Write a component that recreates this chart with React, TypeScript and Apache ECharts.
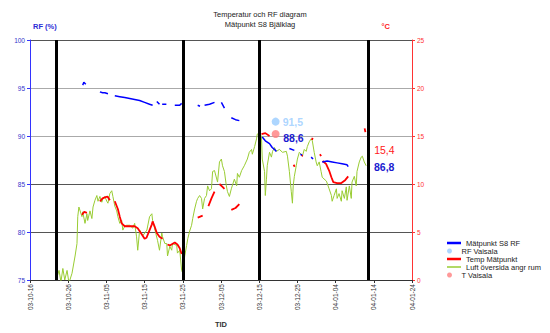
import React, { useEffect, useRef } from "react";
import * as echarts from "echarts";

const FONT = '"Liberation Sans", Arial, Helvetica, sans-serif';

// All x-values are days since the start of the period, 2003-10-16 00:00.
const START_UTC = Date.UTC(2003, 9, 16);
const DAY_MS = 86400000;
const periodDays = { min: 0, max: 100, step: 10 };
const rfAxis = { min: 75, max: 100, step: 5 };
const tempAxis = { min: 0, max: 25, step: 5 };

// RF reading of the sensor at the time of the Vaisala check
const rfVidVaisala = [64.0, 88.6];

// Mätpunkt S8 RF (%), logged in separate runs
const rfSegments: number[][][] = [
  [[13.8, 95.3], [14.1, 95.6], [14.6, 95.4]],
  [[18.3, 94.6], [19.0, 94.5], [19.6, 94.5], [20.4, 94.4]],
  [[22.2, 94.2], [23.5, 94.1], [24.8, 94.0], [26.1, 93.9], [27.4, 93.8], [28.7, 93.7], [30.0, 93.5], [31.3, 93.3], [32.1, 93.2]],
  [[33.2, 93.6], [33.9, 93.3]],
  [[34.6, 93.3], [35.7, 93.3]],
  [[37.9, 93.2], [39.2, 93.2], [39.7, 93.4]],
  [[43.9, 93.2], [44.5, 93.1]],
  [[45.7, 93.2], [47.0, 93.3], [48.3, 93.5]],
  [[50.1, 93.5], [50.9, 92.9]],
  [[52.7, 91.9], [53.8, 91.7], [54.8, 91.6]],
  [[60.8, 89.9], [61.6, 89.5], [62.7, 89.2], [63.4, 88.8], rfVidVaisala, [64.5, 88.4]],
  [[67.9, 88.7], [69.2, 88.5]],
  [[70.8, 88.1], [71.2, 88.0]],
  [[73.6, 87.8], [74.1, 87.6]],
  [[76.5, 87.3], [77.8, 87.4], [79.1, 87.3], [80.4, 87.2], [81.7, 87.1], [83.0, 87.0], [83.3, 86.8]],
];

// Temp Mätpunkt (°C)
const tempSegments: number[][][] = [
  [[13.6, 6.8], [14.2, 7.1], [14.9, 7.0]],
  [[18.3, 8.2], [19.0, 8.5], [19.6, 8.6], [20.3, 8.7], [20.9, 8.3]],
  [[22.2, 8.2], [23.0, 7.4], [23.5, 6.6], [24.0, 5.9], [24.8, 5.6], [26.1, 5.6], [27.4, 5.6], [28.2, 5.4], [29.2, 4.8], [30.0, 4.3], [30.5, 4.4], [31.3, 5.2], [31.9, 5.8], [32.1, 6.1], [32.6, 5.6], [33.2, 4.9], [33.9, 4.5], [34.7, 4.3]],
  [[36.0, 3.7], [36.6, 3.6], [37.9, 3.9], [38.6, 3.7], [39.2, 3.3], [39.7, 2.7]],
  [[43.9, 6.5], [45.2, 6.7]],
  [[46.7, 7.7], [47.5, 8.5], [48.3, 9.2]],
  [[49.6, 10.0], [50.4, 9.7], [50.9, 9.5]],
  [[52.7, 7.3], [53.8, 7.5], [54.8, 7.9]],
  [[60.6, 15.2], [61.6, 15.3], [62.7, 15.0]],
  [[69.0, 12.0], [69.3, 11.8]],
  [[71.1, 12.9], [71.4, 13.0]],
  [[73.8, 14.6], [74.0, 14.8]],
  [[75.9, 13.1], [76.2, 12.9]],
  [[76.6, 12.4], [77.5, 12.1], [78.3, 11.4], [78.9, 10.7], [79.4, 10.2], [80.4, 10.1], [81.5, 10.1], [82.5, 10.4], [83.3, 10.8]],
  [[87.6, 15.8], [87.8, 15.4]],
];

// Luft översida angr rum (°C)
const luft: number[][] = [
  [7.0, 0.2], [7.6, 1.0], [8.1, -0.2], [8.6, 1.2], [9.1, 0.0], [9.7, 1.0], [10.2, -0.3], [11.0, 0.7],
  [11.8, 2.5], [12.3, 3.8], [12.5, 6.6], [12.8, 7.6], [13.6, 6.6], [13.8, 7.1], [14.4, 5.9], [14.9, 6.9],
  [15.1, 6.2], [15.7, 7.2], [16.2, 6.4], [16.5, 7.6], [17.0, 8.3], [17.5, 8.8], [17.8, 8.2], [18.3, 8.7],
  [18.8, 8.1], [19.1, 8.5], [19.6, 8.7], [20.1, 8.2], [20.4, 8.0], [20.9, 9.0], [21.4, 9.3], [21.7, 8.7],
  [22.2, 7.7], [22.7, 7.2], [23.0, 6.6], [23.5, 5.9], [24.0, 6.2], [24.3, 5.2], [24.8, 5.6], [25.3, 5.7],
  [26.1, 5.7], [26.9, 5.4], [27.4, 5.9], [27.9, 4.5], [28.2, 3.1], [28.7, 5.2], [29.5, 4.6], [30.6, 5.2],
  [31.3, 6.6], [31.9, 6.9], [32.1, 6.2], [32.6, 5.4], [33.4, 4.1], [33.9, 3.1], [34.5, 4.9], [34.7, 4.5],
  [35.3, 3.8], [35.8, 3.8], [36.0, 2.5], [36.6, 3.5], [37.1, 3.1], [37.3, 3.8], [38.4, 3.6], [38.6, 2.8],
  [39.2, 3.1], [39.7, 1.0], [40.0, 0.7], [40.5, 2.5], [41.0, 3.6], [41.3, 4.3], [41.8, 5.1], [42.3, 5.7],
  [42.6, 6.4], [43.1, 7.4], [43.6, 8.2], [43.9, 8.5], [44.4, 8.8], [44.9, 8.5], [45.2, 7.4], [45.7, 8.5],
  [46.2, 8.8], [46.5, 9.8], [47.0, 9.3], [47.5, 9.5], [47.8, 11.3], [48.3, 11.4], [49.1, 10.2], [49.6, 12.3],
  [50.1, 12.6], [50.4, 11.9], [50.9, 11.3], [51.4, 9.8], [51.7, 9.2], [52.2, 8.7], [52.7, 9.5], [53.5, 10.5],
  [54.1, 9.8], [54.3, 11.1], [54.8, 10.7], [55.4, 11.4], [56.1, 11.9], [56.9, 12.6], [57.4, 13.3], [58.0, 13.6],
  [58.2, 13.1], [58.8, 13.9], [59.3, 14.7], [59.5, 15.2], [60.1, 15.4], [60.6, 14.9], [60.8, 12.6], [61.4, 11.3],
  [61.6, 8.8], [61.9, 10.5], [62.1, 11.9], [62.7, 13.3], [63.2, 12.8], [63.5, 13.4], [64.0, 13.8], [64.5, 13.4],
  [65.3, 13.6], [66.1, 13.3], [67.1, 13.4], [67.4, 12.9], [67.9, 11.3], [68.4, 9.2], [68.7, 8.0], [68.9, 9.8],
  [69.2, 10.8], [69.7, 11.9], [70.0, 12.6], [70.5, 13.3], [71.0, 13.1], [71.3, 12.9], [71.8, 13.6], [72.3, 13.4],
  [72.6, 13.9], [73.1, 14.4], [73.6, 14.7], [73.9, 14.5], [74.4, 13.3], [74.9, 12.3], [75.2, 11.9], [75.7, 12.3],
  [76.2, 11.3], [76.5, 10.7], [77.6, 10.3], [78.3, 9.5], [78.9, 8.8], [79.1, 8.2], [79.6, 8.8], [80.2, 9.5],
  [80.4, 8.5], [80.9, 9.0], [81.5, 8.2], [81.7, 9.3], [82.3, 8.5], [82.8, 9.7], [83.0, 8.3], [83.6, 9.8],
  [84.1, 8.5], [84.3, 10.2], [84.9, 10.8], [85.4, 9.8], [85.6, 11.3], [86.2, 12.3], [86.7, 12.8], [87.0, 12.9],
  [87.5, 12.3], [88.0, 11.9],
];

// Vaisala reference measurements
const rfVaisala = [[64.3, 91.5]];
const tVaisala = [[64.3, 15.2]];

// Days marked with vertical bars
const markerDays = [7.0, 40.1, 60.1, 88.5];

const legendRows = [
  { name: "Mätpunkt S8 RF", icon: "rect", h: 2.5 },
  { name: "RF Vaisala", icon: "circle", h: 5 },
  { name: "Temp Mätpunkt", icon: "rect", h: 2.5 },
  { name: "Luft översida angr rum", icon: "rect", h: 1.5 },
  { name: "T Vaisala", icon: "circle", h: 5 },
];

const fmtValue = (v: number) => v.toFixed(1).replace(".", ",");

const fmtDay = (d: number) => {
  const dt = new Date(START_UTC + Math.round(d) * DAY_MS);
  const pad = (n: number) => String(n).padStart(2, "0");
  return `${String(dt.getUTCFullYear()).slice(2)}-${pad(dt.getUTCMonth() + 1)}-${pad(dt.getUTCDate())}`;
};

const joinSegments = (segs: number[][][]) =>
  segs.flatMap((s, i) => (i ? [[s[0][0], "-"], ...s] : s)) as any[];

const lastOf = (segs: number[][][]) => {
  const s = segs[segs.length - 1];
  return s[s.length - 1];
};

const BLUE = "#0000ff";
const RED = "#ff0000";
const GREEN = "#99cc33";

function buildOption(): echarts.EChartsCoreOption {
  const rfLast = lastOf(rfSegments);
  const tempLast = lastOf(tempSegments);
  const valueLabel = (color: string, weight: string) => ({
    show: true,
    position: "inside",
    formatter: (p: any) => fmtValue(p.value),
    fontSize: 10.5,
    fontWeight: weight,
    color,
    fontFamily: FONT,
  });

  return {
    animation: false,
    backgroundColor: "#ffffff",
    textStyle: { fontFamily: FONT },
    title: {
      text: "Temperatur och RF diagram\nMätpunkt S8 Bjälklag",
      left: 260,
      top: 9,
      textAlign: "center",
      padding: 0,
      textStyle: { fontSize: 7.5, fontWeight: "normal", color: "#222222", lineHeight: 10, fontFamily: FONT },
    },
    grid: { left: 30, right: 138, top: 40, bottom: 51 },
    legend: legendRows.map((r, i) => ({
      data: [r.name],
      left: 447,
      top: 239 + i * 8,
      padding: 0,
      itemWidth: 14,
      itemHeight: r.h,
      icon: r.icon,
      itemGap: 0,
      selectedMode: false,
      textStyle: { fontSize: 7.5, color: "#222", fontFamily: FONT },
    })),
    xAxis: {
      type: "value",
      min: periodDays.min,
      max: periodDays.max,
      interval: periodDays.step,
      name: "TID",
      nameLocation: "middle",
      nameGap: 40,
      nameTextStyle: { fontSize: 7.5, fontWeight: "bold", color: "#333", fontFamily: FONT },
      axisLine: { lineStyle: { color: "#333" } },
      axisTick: { length: 3, lineStyle: { color: "#333" } },
      axisLabel: { rotate: 90, fontSize: 6.5, color: "#333", margin: 4, formatter: fmtDay, fontFamily: FONT },
      splitLine: { show: false },
    },
    yAxis: [
      {
        type: "value",
        position: "left",
        min: rfAxis.min,
        max: rfAxis.max,
        interval: rfAxis.step,
        name: "RF (%)",
        nameLocation: "end",
        nameGap: 10,
        nameTextStyle: { fontSize: 7.5, fontWeight: "bold", color: "#2b2bd6", align: "left", padding: [0, 0, 0, 3], fontFamily: FONT },
        axisLine: { show: true, lineStyle: { color: "#3333ff" } },
        axisTick: { show: true, length: 3, lineStyle: { color: "#3333ff" } },
        axisLabel: { color: "#3333cc", fontSize: 6.5, margin: 5, fontFamily: FONT },
        splitLine: { show: true, lineStyle: { color: ["#555", "#555", "#555", "#aaa", "#aaa", "#555"], width: 1 } },
      },
      {
        type: "value",
        position: "right",
        min: tempAxis.min,
        max: tempAxis.max,
        interval: tempAxis.step,
        name: "°C",
        nameLocation: "end",
        nameGap: 10,
        nameTextStyle: { fontSize: 7.5, fontWeight: "bold", color: "#ff2020", align: "right", padding: [0, 22, 0, 0], fontFamily: FONT },
        axisLine: { show: true, lineStyle: { color: "#ff3333" } },
        axisTick: { show: true, length: 3, lineStyle: { color: "#ff3333" } },
        axisLabel: { color: "#ff3333", fontSize: 6.5, margin: 5, fontFamily: FONT },
        splitLine: { show: false },
      },
    ],
    series: [
      {
        name: "Luft översida angr rum",
        type: "line",
        yAxisIndex: 1,
        data: luft,
        symbol: "none",
        lineStyle: { color: GREEN, width: 1 },
        itemStyle: { color: GREEN },
        z: 2,
        markLine: {
          silent: true,
          symbol: ["none", "none"],
          label: { show: false },
          lineStyle: { color: "#000", width: 3, type: "solid" },
          data: markerDays.map((d) => ({ xAxis: d })),
        },
      },
      {
        name: "Temp Mätpunkt",
        type: "line",
        yAxisIndex: 1,
        data: joinSegments(tempSegments),
        symbol: "none",
        lineStyle: { color: RED, width: 1.8 },
        itemStyle: { color: RED },
        z: 3,
        markPoint: {
          symbol: "circle",
          symbolSize: 1,
          itemStyle: { color: "rgba(0,0,0,0)" },
          label: valueLabel("#ff2020", "normal"),
          data: [{ coord: tempLast, value: tempLast[1], label: { offset: [19, 18] } }],
        },
      },
      {
        name: "Mätpunkt S8 RF",
        type: "line",
        yAxisIndex: 0,
        data: joinSegments(rfSegments),
        symbol: "none",
        lineStyle: { color: BLUE, width: 1.5 },
        itemStyle: { color: BLUE },
        z: 4,
        markPoint: {
          symbol: "circle",
          symbolSize: 1,
          itemStyle: { color: "rgba(0,0,0,0)" },
          label: valueLabel("#1a1ad0", "bold"),
          data: [
            { coord: rfVidVaisala, value: rfVidVaisala[1], label: { offset: [19, -11] } },
            { coord: rfLast, value: rfLast[1], label: { offset: [36, 0] } },
          ],
        },
      },
      {
        name: "RF Vaisala",
        type: "scatter",
        yAxisIndex: 0,
        data: rfVaisala,
        symbolSize: 8,
        itemStyle: { color: "#99ccff" },
        z: 5,
        label: {
          show: true,
          position: "right",
          distance: 3,
          formatter: (p: any) => fmtValue(p.value[1]),
          fontSize: 10.5,
          fontWeight: "bold",
          color: "#99ccff",
          fontFamily: FONT,
        },
      },
      {
        name: "T Vaisala",
        type: "scatter",
        yAxisIndex: 1,
        data: tVaisala,
        symbolSize: 8,
        itemStyle: { color: "#ff8080" },
        z: 5,
      },
    ],
  };
}

export default function App() {
  const ref = useRef<HTMLDivElement>(null);

  useEffect(() => {
    if (!ref.current) return;
    const chart = echarts.init(ref.current, null, { renderer: "svg" });
    chart.setOption(buildOption());
    return () => chart.dispose();
  }, []);

  return (
    <div
      ref={ref}
      style={{ position: "fixed", left: 0, top: 0, width: 550, height: 333, background: "#fff" }}
    />
  );
}
